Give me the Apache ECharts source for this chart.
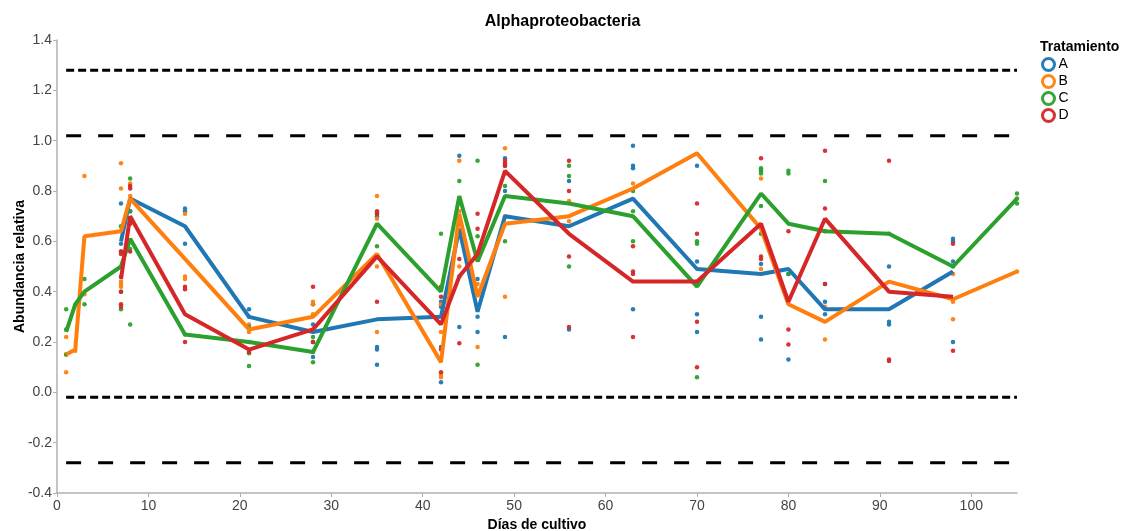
<!DOCTYPE html>
<html>
<head>
<meta charset="utf-8">
<script src="https://cdn.jsdelivr.net/npm/echarts@6/dist/echarts.min.js"></script>
<style>
  html, body { margin: 0; padding: 0; background: #fff; }
  #chart { width: 1125px; height: 531px; }
</style>
</head>
<body>
<div id="chart"></div>
<script>
// Treatments and their colours
const treatments = ['A', 'B', 'C', 'D'];
const colors = ['#1f77b4', '#ff7f0e', '#2ca02c', '#d62728'];

// Mean trajectories per treatment: [day, relative abundance]
const meanA = [[7,0.60],[8,0.77],[14,0.66],[21,0.30],[28,0.24],[35,0.29],[42,0.30],[44,0.65],[46,0.32],[49,0.70],[56,0.66],[63,0.77],[70,0.49],[77,0.47],[80,0.49],[84,0.33],[91,0.33],[98,0.48]];
const meanB = [[1,0.15],[2,0.17],[3,0.62],[7,0.64],[8,0.77],[14,0.53],[21,0.25],[28,0.30],[35,0.55],[42,0.12],[44,0.71],[46,0.38],[49,0.67],[56,0.70],[63,0.81],[70,0.95],[77,0.65],[80,0.35],[84,0.28],[91,0.44],[98,0.37],[105,0.48]];
const meanC = [[1,0.24],[2,0.35],[3,0.40],[7,0.50],[8,0.61],[14,0.23],[21,0.20],[28,0.16],[35,0.67],[42,0.40],[44,0.78],[46,0.52],[49,0.78],[56,0.75],[63,0.70],[70,0.42],[77,0.79],[80,0.67],[84,0.64],[91,0.63],[98,0.50],[105,0.77]];
const meanD = [[7,0.45],[8,0.70],[14,0.31],[21,0.17],[28,0.25],[35,0.54],[42,0.27],[44,0.46],[46,0.55],[49,0.88],[56,0.63],[63,0.44],[70,0.44],[77,0.67],[80,0.36],[84,0.69],[91,0.40],[98,0.38]];

// Individual replicate measurements: [day, relative abundance]
const pointsA = [[7,0.75],[7,0.46],[7,0.59],[8,0.72],[14,0.73],[14,0.72],[14,0.59],[21,0.33],[21,0.30],[28,0.35],[28,0.27],[28,0.14],[28,0.20],[35,0.70],[35,0.18],[35,0.17],[35,0.11],[42,0.36],[42,0.34],[42,0.18],[42,0.04],[44,0.94],[44,0.62],[44,0.46],[44,0.26],[46,0.45],[46,0.30],[46,0.24],[49,0.93],[49,0.87],[49,0.80],[49,0.22],[56,0.84],[56,0.25],[63,0.98],[63,0.90],[63,0.89],[63,0.33],[70,0.90],[70,0.52],[70,0.31],[70,0.24],[77,0.88],[77,0.51],[77,0.30],[77,0.21],[80,0.47],[80,0.13],[84,0.36],[84,0.31],[91,0.50],[91,0.28],[91,0.27],[98,0.61],[98,0.60],[98,0.52],[98,0.20]];
const pointsB = [[1,0.22],[1,0.08],[1,0.15],[2,0.165],[3,0.86],[3,0.39],[7,0.91],[7,0.81],[7,0.44],[7,0.42],[7,0.43],[8,0.83],[8,0.78],[8,0.67],[14,0.71],[14,0.46],[14,0.45],[21,0.27],[21,0.24],[28,0.36],[28,0.35],[28,0.31],[35,0.78],[35,0.69],[35,0.50],[35,0.24],[42,0.35],[42,0.24],[42,0.07],[42,0.06],[44,0.92],[44,0.72],[44,0.50],[46,0.43],[46,0.18],[49,0.97],[49,0.70],[49,0.38],[56,0.76],[56,0.68],[63,0.83],[77,0.85],[77,0.66],[77,0.49],[84,0.34],[84,0.21],[98,0.47],[98,0.36],[98,0.29],[105,0.48]];
const pointsC = [[1,0.33],[1,0.15],[1,0.25],[3,0.45],[3,0.35],[7,0.66],[7,0.56],[7,0.40],[7,0.33],[8,0.85],[8,0.72],[8,0.57],[8,0.27],[14,0.23],[21,0.26],[21,0.155],[21,0.105],[28,0.22],[28,0.20],[28,0.12],[35,0.71],[35,0.58],[42,0.63],[44,0.84],[44,0.77],[46,0.92],[46,0.62],[46,0.11],[49,0.90],[49,0.82],[49,0.60],[56,0.90],[56,0.86],[56,0.50],[63,0.80],[63,0.72],[63,0.60],[70,0.60],[70,0.59],[70,0.06],[77,0.89],[77,0.88],[77,0.87],[77,0.74],[77,0.63],[80,0.88],[80,0.87],[80,0.47],[84,0.84],[84,0.43],[91,0.63],[98,0.50],[105,0.79],[105,0.77],[105,0.75]];
const pointsD = [[7,0.56],[7,0.55],[7,0.40],[7,0.35],[7,0.34],[8,0.82],[8,0.81],[8,0.67],[8,0.56],[14,0.42],[14,0.41],[14,0.20],[21,0.20],[21,0.16],[28,0.42],[28,0.20],[28,0.16],[35,0.72],[35,0.71],[35,0.36],[42,0.42],[42,0.38],[42,0.17],[42,0.08],[44,0.68],[44,0.53],[44,0.195],[46,0.71],[46,0.65],[49,0.92],[49,0.91],[49,0.90],[56,0.92],[56,0.80],[56,0.54],[56,0.26],[63,0.58],[63,0.48],[63,0.47],[63,0.22],[70,0.75],[70,0.63],[70,0.28],[70,0.10],[77,0.93],[77,0.54],[77,0.53],[80,0.64],[80,0.25],[80,0.19],[84,0.96],[84,0.73],[84,0.64],[84,0.43],[91,0.92],[91,0.13],[91,0.125],[98,0.59],[98,0.165]];

// Control limits (horizontal reference lines) and their span in days
const limitValues = [1.28, 1.02, -0.02, -0.28];
const limitDash = [[8, 4], [15, 17], [8, 4], [15, 17]];
const limitSpan = [1, 105];

// Axis ticks
const xTicks = [0, 10, 20, 30, 40, 50, 60, 70, 80, 90, 100];
const yTicks = [-0.4, -0.2, 0.0, 0.2, 0.4, 0.6, 0.8, 1.0, 1.2, 1.4];

const means = [meanA, meanB, meanC, meanD];
const points = [pointsA, pointsB, pointsC, pointsD];

const FONT = 'Liberation Sans, Arial, sans-serif';
const chart = echarts.init(document.getElementById('chart'), null, { renderer: 'canvas' });

const series = [];
// reference lines
limitValues.forEach((v, i) => {
  series.push({
    type: 'line', silent: true, symbol: 'none', z: 1,
    data: [[limitSpan[0], v], [limitSpan[1], v]],
    lineStyle: { color: '#000', width: 3, type: limitDash[i] }
  });
});
// replicate points
treatments.forEach((t, i) => {
  series.push({
    name: t, type: 'scatter', symbol: 'circle', symbolSize: 4.5, z: 2,
    data: points[i],
    itemStyle: { color: colors[i], opacity: 0.95 }
  });
});
// mean lines
treatments.forEach((t, i) => {
  series.push({
    name: t, type: 'line', symbol: 'none', z: 3 + i,
    data: means[i],
    lineStyle: { color: colors[i], width: 4 },
    itemStyle: { color: colors[i] }
  });
});

chart.setOption({
  animation: false,
  backgroundColor: '#fff',
  title: [
    { text: 'Alphaproteobacteria', left: 'center', top: 9,
      textStyle: { fontFamily: FONT, fontSize: 16, fontWeight: 'bold', color: '#000' } },
    { text: 'Tratamiento', left: 1035, top: 35,
      textStyle: { fontFamily: FONT, fontSize: 14, fontWeight: 'bold', color: '#000' } }
  ],
  legend: {
    orient: 'vertical', left: 1041, top: 57, itemGap: 2, padding: 0,
    itemWidth: 12, itemHeight: 12,
    textStyle: { fontFamily: FONT, fontSize: 14, color: '#000', padding: [0, 0, 0, -1] },
    data: treatments.map((t, i) => ({
      name: t, icon: 'circle',
      itemStyle: { color: '#fff', borderColor: colors[i], borderWidth: 3 }
    }))
  },
  grid: { left: 57, right: 108, top: 40, bottom: 38, outerBoundsMode: 'none' },
  xAxis: {
    type: 'value', min: 0, max: 105, interval: 10,
    name: 'Días de cultivo', nameLocation: 'middle', nameGap: 22,
    nameTextStyle: { fontFamily: FONT, fontSize: 14, fontWeight: 'bold', color: '#000' },
    axisLine: { show: true, onZero: false, lineStyle: { color: '#b0b0b0', width: 1.5 } },
    axisTick: { show: true, length: 4, customValues: xTicks, lineStyle: { color: '#b0b0b0' } },
    axisLabel: { customValues: xTicks, fontFamily: FONT, fontSize: 14, color: '#444', margin: 6 },
    splitLine: { show: false }
  },
  yAxis: {
    type: 'value', min: -0.4, max: 1.4, interval: 0.2,
    name: 'Abundancia relativa', nameLocation: 'middle', nameGap: 30, nameRotate: 90,
    nameMoveOverlap: false,
    nameTextStyle: { fontFamily: FONT, fontSize: 14, fontWeight: 'bold', color: '#000' },
    axisLine: { show: true, onZero: false, lineStyle: { color: '#b0b0b0', width: 1.5 } },
    axisTick: { show: true, length: 4, customValues: yTicks, lineStyle: { color: '#b0b0b0' } },
    axisLabel: { customValues: yTicks, fontFamily: FONT, fontSize: 14, color: '#444', margin: 5,
      formatter: v => v.toFixed(1) },
    splitLine: { show: false }
  },
  series: series
});
</script>
</body>
</html>
